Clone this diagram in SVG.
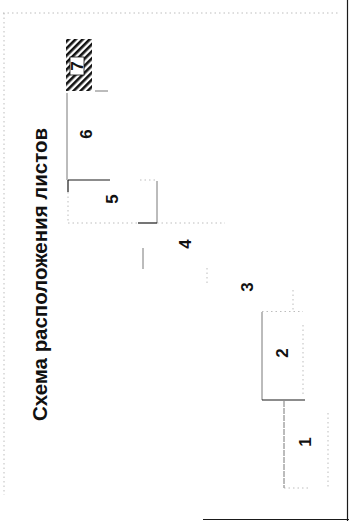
<svg xmlns="http://www.w3.org/2000/svg" width="349" height="521" viewBox="0 0 349 521">
<style>
.solid{stroke:#1a1a1a;stroke-width:1.2;fill:none}
.thin{stroke:#555;stroke-width:0.8;fill:none}
.dot{stroke:#a0a0a0;stroke-width:0.7;stroke-dasharray:1.5 3;fill:none}
.num{font-family:"Liberation Sans",Arial,sans-serif;font-weight:bold;font-size:17px;fill:#111;text-anchor:middle;dominant-baseline:central}
.title{font-family:"Liberation Sans",Arial,sans-serif;font-weight:bold;font-size:20px;fill:#111}
</style>
<defs>
<pattern id="hatch" width="5" height="5" patternUnits="userSpaceOnUse" patternTransform="rotate(45)">
<rect width="5" height="5" fill="#fff"/>
<rect width="2.6" height="5" fill="#111"/>
</pattern>
</defs>
<rect width="349" height="521" fill="#fff"/>
<g id="frame">
<line class="dot" x1="3" y1="13" x2="338" y2="13"/>
<line class="dot" x1="4" y1="13" x2="4" y2="495"/>
<line class="solid" x1="347.5" y1="0" x2="347.5" y2="521" stroke="#444"/>
<line class="solid" x1="203" y1="519.5" x2="349" y2="519.5"/>
</g>
<g id="title">
<text class="title" transform="translate(47,421) rotate(-90)" textLength="293" lengthAdjust="spacingAndGlyphs">Схема расположения листов</text>
</g>
<g id="connectors">
<line class="thin" x1="95" y1="91" x2="108" y2="91"/>
</g>
<g id="sheet7">
<rect x="66" y="39" width="26" height="52" fill="url(#hatch)"/>
<rect x="70" y="57" width="14" height="18" fill="#fff" stroke="#111" stroke-width="0.8"/>
<text class="num" transform="translate(77,66) rotate(-90)">7</text>
</g>
<g id="sheet6">
<line class="thin" x1="67" y1="93" x2="67" y2="180"/>
<text class="num" transform="translate(86,134) rotate(-90)">6</text>
</g>
<g id="sheet5">
<line class="solid" x1="68" y1="180" x2="110" y2="180"/>
<line class="dot" x1="140" y1="180" x2="157" y2="180"/>
<line class="solid" x1="68" y1="180" x2="68" y2="192"/>
<line class="dot" x1="68" y1="192" x2="68" y2="223"/>
<line class="thin" x1="157" y1="181" x2="157" y2="223"/>
<line class="dot" x1="68" y1="223" x2="138" y2="223"/>
<line class="solid" x1="138" y1="223" x2="157" y2="223" stroke-width="1.6"/>
<line class="dot" x1="157" y1="223" x2="225" y2="223"/>
<text class="num" transform="translate(112,199) rotate(-90)">5</text>
</g>
<g id="sheet4">
<line class="thin" x1="143" y1="248" x2="143" y2="269"/>
<text class="num" transform="translate(185,244) rotate(-90)">4</text>
</g>
<g id="sheet3">
<line class="dot" x1="207" y1="268" x2="207" y2="285"/>
<line class="dot" x1="293" y1="290" x2="293" y2="311"/>
<text class="num" transform="translate(247,287) rotate(-90)">3</text>
</g>
<g id="sheet2">
<line class="thin" x1="262" y1="312" x2="262" y2="400"/>
<line class="dot" x1="262" y1="311.5" x2="303" y2="311.5"/>
<line class="dot" x1="303" y1="325" x2="303" y2="397"/>
<line class="solid" x1="262" y1="400" x2="305" y2="400"/>
<text class="num" transform="translate(282,353) rotate(-90)">2</text>
</g>
<g id="sheet1">
<line class="thin" x1="284" y1="401" x2="284" y2="488" stroke-dasharray="6 1"/>
<line class="dot" x1="284" y1="488" x2="310" y2="488"/>
<line class="dot" x1="328" y1="413" x2="328" y2="487"/>
<text class="num" transform="translate(305,442) rotate(-90)">1</text>
</g>
</svg>
